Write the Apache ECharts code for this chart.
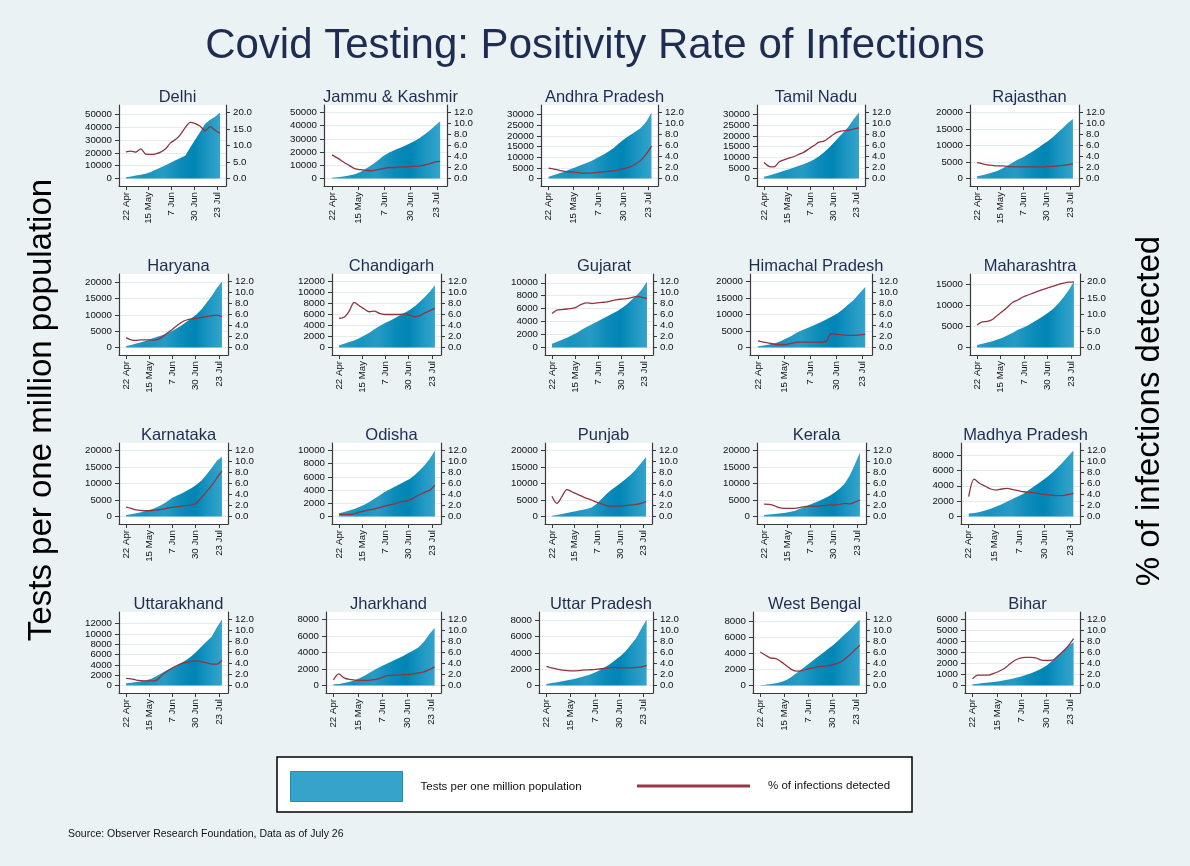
<!DOCTYPE html>
<html>
<head>
<meta charset="utf-8">
<title>Covid Testing: Positivity Rate of Infections</title>
<script src="https://cdn.jsdelivr.net/npm/echarts@6/dist/echarts.min.js"></script>
<style>
  html, body { margin: 0; padding: 0; background: #eaf2f3; }
  #chart { width: 1190px; height: 866px; }
</style>
</head>
<body>
<div id="chart"></div>
<script>
// days since 22 Apr, one reading every 5 days (last = 26 Jul)
const days = [0,5,10,15,20,25,30,35,40,45,50,55,60,65,70,75,80,85,90,95];
const tickDays = [0,23,46,69,92];
const tickLabels = ['22 Apr','15 May','7 Jun','30 Jun','23 Jul'];

// tests per one million population
const delhiTests = [1000,1600,2300,3000,3700,5000,6800,8600,10400,12300,14300,16000,18000,24300,30400,36400,42700,45800,48200,51500];
const jkTests = [500,900,1500,2300,3300,5000,7500,10200,13500,17000,19500,21500,23300,25200,27200,29500,32500,35700,39500,43400];
const apTests = [800,1600,2500,3300,4300,5300,6300,7300,8400,9700,11000,12600,14300,16500,18500,20300,22000,23700,26500,31000];
const tnTests = [800,1400,2100,2800,3600,4400,5200,6000,6800,7800,8900,10500,12300,14500,16900,19500,22000,24700,28000,31000];
const rjTests = [700,1000,1400,1800,2300,3000,3900,4800,5700,6400,7300,8200,9200,10300,11300,12500,13900,15300,16800,18000];
const hrTests = [500,800,1200,1600,2100,2700,3200,3700,4300,5000,5800,6800,7900,9000,10200,11800,13800,15800,18200,20200];
const chTests = [400,700,1000,1300,1700,2200,2700,3300,3900,4400,4800,5300,5800,6300,6800,7500,8300,9200,10200,11300];
const gjTests = [600,900,1200,1500,1900,2300,2800,3200,3600,4000,4400,4800,5200,5600,6100,6700,7400,8100,9000,10200];
const hpTests = [400,600,900,1300,1900,2700,3600,4600,5400,6100,6800,7600,8400,9300,10200,11500,13000,14500,16400,18300];
const mhTests = [600,900,1200,1500,1900,2300,2900,3500,4200,4700,5300,6000,6700,7500,8300,9300,10500,12000,13700,15700];
const kaTests = [500,700,1000,1300,1700,2100,2700,3500,4400,5500,6300,7000,7800,8600,9700,11000,12800,14800,16900,18100];
const orTests = [500,700,900,1150,1450,1800,2200,2700,3200,3700,4100,4500,4900,5300,5700,6300,7000,7800,8800,10000];
const pbTests = [200,500,800,1100,1400,1700,2000,2300,2700,3800,5300,6800,8100,9200,10300,11500,12800,14400,16200,18000];
const klTests = [500,650,800,950,1100,1350,1700,2300,2900,3600,4200,4800,5500,6300,7300,8500,10000,12500,15800,19400];
const mpTests = [400,450,600,800,1000,1300,1600,1950,2300,2650,3000,3500,4000,4500,5000,5600,6300,7000,7800,8600];
const ukTests = [450,550,700,850,1000,1300,1800,2400,2900,3400,3800,4400,5000,5700,6600,7600,8600,9500,11300,12800];
const jhTests = [150,200,300,450,650,900,1250,1650,2000,2350,2650,2950,3250,3550,3900,4250,4650,5300,6200,7000];
const upTests = [200,300,400,520,650,780,920,1100,1300,1550,1850,2200,2600,3100,3600,4200,5000,5800,7000,8100];
const wbTests = [50,100,180,300,450,700,1100,1600,2100,2600,3100,3600,4100,4600,5100,5700,6300,6900,7600,8250];
const brTests = [120,170,220,270,320,400,470,560,680,800,950,1120,1320,1550,1850,2250,2700,3150,3600,3950];

// % of infections detected
const delhiPos = [8.1,8.3,8.0,9.0,7.4,7.3,7.5,8.0,9.0,10.8,11.8,13.3,15.5,17.0,16.6,15.8,14.5,15.7,14.6,13.7];
const jkPos = [4.3,3.7,3.0,2.4,1.8,1.6,1.5,1.4,1.6,1.8,2.0,2.0,2.1,2.1,2.2,2.2,2.4,2.6,3.0,3.1];
const apPos = [1.9,1.7,1.5,1.3,1.2,1.1,1.0,1.0,1.0,1.1,1.2,1.3,1.4,1.6,1.8,2.1,2.6,3.3,4.4,5.9];
const tnPos = [2.9,2.2,2.1,3.0,3.4,3.7,4.0,4.4,4.8,5.4,6.0,6.6,6.8,7.4,8.1,8.5,8.7,8.8,9.0,9.2];
const rjPos = [2.9,2.7,2.5,2.4,2.3,2.3,2.2,2.1,2.1,2.1,2.1,2.1,2.1,2.1,2.2,2.2,2.3,2.4,2.5,2.7];
const hrPos = [1.8,1.4,1.3,1.4,1.4,1.35,1.4,1.8,2.5,3.2,3.9,4.6,5.0,5.2,5.3,5.5,5.6,5.8,5.9,5.6];
const chPos = [5.3,5.5,6.6,8.2,7.6,7.0,6.5,6.6,6.2,6.0,6.0,6.0,6.0,6.1,5.9,5.6,5.8,6.3,6.7,7.1];
const gjPos = [6.2,6.8,6.9,7.0,7.1,7.4,7.9,8.1,8.0,8.1,8.2,8.3,8.5,8.7,8.8,8.9,9.1,9.3,9.1,8.9];
const hpPos = [1.2,1.0,0.8,0.6,0.55,0.55,0.8,1.0,1.0,1.0,1.0,1.0,1.05,2.5,2.4,2.3,2.2,2.2,2.3,2.4];
const mhPos = [6.8,7.8,7.9,8.5,9.8,11.0,12.3,13.7,14.4,15.3,15.9,16.5,17.1,17.6,18.1,18.6,19.1,19.5,19.8,19.9];
const kaPos = [1.7,1.5,1.2,1.1,1.05,1.1,1.2,1.3,1.5,1.65,1.75,1.9,2.0,2.1,2.5,3.5,4.6,5.7,7.0,8.3];
const orPos = [0.4,0.4,0.4,0.5,0.8,1.0,1.2,1.4,1.6,1.9,2.1,2.3,2.6,2.8,3.0,3.5,4.0,4.4,4.8,5.7];
const pbPos = [3.7,2.4,3.6,4.9,4.5,4.1,3.7,3.3,3.0,2.6,2.3,2.0,1.9,1.9,1.95,2.0,2.1,2.2,2.4,2.7];
const klPos = [2.25,2.2,2.0,1.6,1.5,1.5,1.5,1.6,1.8,1.9,1.9,1.9,2.0,2.1,2.1,2.2,2.4,2.3,2.6,3.0];
const mpPos = [3.6,6.8,6.0,5.5,5.0,4.8,5.0,5.1,4.9,4.7,4.5,4.4,4.3,4.1,4.0,3.9,3.8,3.8,4.0,4.2];
const ukPos = [1.3,1.2,1.0,0.9,0.85,0.85,0.95,1.8,2.5,3.1,3.6,4.0,4.2,4.4,4.5,4.3,4.1,3.9,3.9,4.6];
const jhPos = [1.0,2.1,1.4,1.1,1.0,0.95,0.95,1.0,1.1,1.4,1.8,1.9,1.9,1.95,2.0,2.1,2.3,2.5,2.9,3.4];
const upPos = [3.5,3.2,3.0,2.8,2.7,2.65,2.7,2.8,2.85,2.9,3.0,3.1,3.2,3.3,3.2,3.2,3.2,3.3,3.4,3.6];
const wbPos = [6.1,5.5,5.0,4.9,4.3,3.6,2.9,2.6,2.7,3.0,3.2,3.4,3.5,3.6,3.8,4.1,4.7,5.5,6.4,7.3];
const brPos = [1.2,1.9,1.9,1.9,2.2,2.6,3.1,3.9,4.6,5.0,5.1,5.1,5.0,4.6,4.55,4.6,5.3,6.2,7.2,8.5];

const states = ['Delhi','Jammu & Kashmir','Andhra Pradesh','Tamil Nadu','Rajasthan',
  'Haryana','Chandigarh','Gujarat','Himachal Pradesh','Maharashtra',
  'Karnataka','Odisha','Punjab','Kerala','Madhya Pradesh',
  'Uttarakhand','Jharkhand','Uttar Pradesh','West Bengal','Bihar'];
const testsByState = [delhiTests,jkTests,apTests,tnTests,rjTests,hrTests,chTests,gjTests,hpTests,mhTests,
  kaTests,orTests,pbTests,klTests,mpTests,ukTests,jhTests,upTests,wbTests,brTests];
const posByState = [delhiPos,jkPos,apPos,tnPos,rjPos,hrPos,chPos,gjPos,hpPos,mhPos,
  kaPos,orPos,pbPos,klPos,mpPos,ukPos,jhPos,upPos,wbPos,brPos];

// axis labels of each panel
const leftTop  = [50000,50000,30000,30000,20000, 20000,12000,10000,20000,15000, 20000,10000,20000,20000,8000, 12000,8000,8000,8000,6000];
const leftStep = [10000,10000,5000,5000,5000, 5000,2000,2000,5000,5000, 5000,2000,5000,5000,2000, 2000,2000,2000,2000,1000];
const rightTop  = [20,12,12,12,12, 12,12,12,12,20, 12,12,12,12,12, 12,12,12,12,12];
const rightStep = [5,2,2,2,2, 2,2,2,2,5, 2,2,2,2,2, 2,2,2,2,2];

// panel geometry
const plotLeft  = [119,324,541,757,970, 119,332,545,750,970, 119,332,545,757,961, 119,326,539,753,965];
const plotRight = [226,447,658,865,1079, 228,441,653,872,1080, 228,441,652,866,1080, 228,441,653,866,1080];
const rowTop = [105,274,443,612];
const plotH = 81;
const pad = 0.113;

const testsName = 'Tests per one million population';
const posName = '% of infections detected';
const font = '"Liberation Sans", Arial, Helvetica, sans-serif';
const axisColor = '#3a3a3a';

const chart = echarts.init(document.getElementById('chart'));

function ticks(top, step) {
  const out = [];
  for (let v = 0; v <= top + 1e-9; v += step) out.push(+v.toFixed(4));
  return out;
}

function areaFill() {
  return new echarts.graphic.LinearGradient(0, 0, 1, 0, [
    { offset: 0, color: '#2a9cc5' },
    { offset: 0.2, color: '#1893bf' },
    { offset: 0.4, color: '#279bc4' },
    { offset: 0.58, color: '#0b8bba' },
    { offset: 0.72, color: '#0085b5' },
    { offset: 0.86, color: '#1c96c2' },
    { offset: 1, color: '#35a4ca' }
  ]);
}

const grids = [], xAxes = [], yAxes = [], series = [];
const titles = [{
  text: 'Covid Testing: Positivity Rate of Infections',
  left: 'center', top: 20,
  textStyle: { fontSize: 42, fontWeight: 'normal', color: '#1e2c52', fontFamily: font }
}];

states.forEach((name, i) => {
  const row = Math.floor(i / 5);
  const top = rowTop[row];
  const left = plotLeft[i];
  const width = plotRight[i] - plotLeft[i];
  grids.push({ left, top, width, height: plotH, show: true, backgroundColor: '#ffffff', borderWidth: 0 });

  titles.push({
    text: name, left: left + width / 2, top: top - 21, textAlign: 'center',
    textStyle: { fontSize: 16.5, fontWeight: 'normal', color: '#1e2c52', fontFamily: font }
  });

  const tests = testsByState[i];
  const pos = posByState[i];
  const L = Math.max(leftTop[i], Math.max(...tests));
  const R = Math.max(rightTop[i], Math.max(...pos));
  const lv = ticks(leftTop[i], leftStep[i]);
  const rv = ticks(rightTop[i], rightStep[i]);

  xAxes.push({
    gridIndex: i, type: 'value', min: -7, max: 101,
    axisLine: { show: true, onZero: false, lineStyle: { color: axisColor, width: 1.2 } },
    axisTick: { show: true, length: 4, customValues: tickDays, lineStyle: { color: axisColor } },
    axisLabel: {
      customValues: tickDays, rotate: 90, margin: 6, fontSize: 9.7, color: '#111', fontFamily: font,
      formatter: v => tickLabels[tickDays.indexOf(Math.round(v))] || ''
    },
    splitLine: { show: false }
  });

  yAxes.push({
    gridIndex: i, type: 'value', position: 'left', min: -pad * L, max: (1 + pad) * L,
    axisLine: { show: true, onZero: false, lineStyle: { color: axisColor, width: 1.2 } },
    axisTick: { show: true, length: 4, customValues: lv, lineStyle: { color: axisColor } },
    axisLabel: { customValues: lv, margin: 7, fontSize: 9.7, color: '#111', fontFamily: font, formatter: v => String(Math.round(v)) },
    splitLine: { show: true, lineStyle: { color: '#e3ecef', width: 1.2 } }
  });
  yAxes.push({
    gridIndex: i, type: 'value', position: 'right', min: -pad * R, max: (1 + pad) * R,
    axisLine: { show: true, onZero: false, lineStyle: { color: axisColor, width: 1.2 } },
    axisTick: { show: true, length: 4, customValues: rv, lineStyle: { color: axisColor } },
    axisLabel: { customValues: rv, margin: 7, fontSize: 9.7, color: '#111', fontFamily: font, formatter: v => v.toFixed(1) },
    splitLine: { show: false }
  });

  series.push({
    type: 'line', name: testsName, xAxisIndex: i, yAxisIndex: 2 * i,
    data: days.map((d, k) => [d, tests[k]]),
    showSymbol: false, silent: true,
    lineStyle: { width: 0 },
    areaStyle: { color: areaFill(), opacity: 1 },
    z: 2
  });
  series.push({
    type: 'line', name: posName, xAxisIndex: i, yAxisIndex: 2 * i + 1,
    data: days.map((d, k) => [d, pos[k]]),
    showSymbol: false, silent: true, smooth: 0.3,
    lineStyle: { color: '#8f3540', width: 1.3 },
    z: 3
  });
});

chart.setOption({
  backgroundColor: '#eaf2f3',
  animation: false,
  title: titles,
  grid: grids,
  xAxis: xAxes,
  yAxis: yAxes,
  series: series,
  legend: [
    {
      data: [{ name: testsName, itemStyle: { color: '#35a3ca', borderColor: '#1a8fbd', borderWidth: 1 } }],
      icon: 'rect', left: 290, top: 771, padding: 0, itemWidth: 112, itemHeight: 30,
      selectedMode: false, z: 10,
      textStyle: { fontSize: 11.5, color: '#111', fontFamily: font, padding: [0, 0, 0, 13] }
    },
    {
      data: [{ name: posName, itemStyle: { color: '#923a44' } }],
      icon: 'rect', left: 637, top: 780, padding: 0, itemWidth: 113, itemHeight: 3,
      selectedMode: false, z: 10,
      textStyle: { fontSize: 11.5, color: '#111', fontFamily: font, padding: [0, 0, 0, 13] }
    }
  ],
  graphic: [
    {
      type: 'rect', z: 1,
      shape: { x: 277, y: 757, width: 635, height: 55 },
      style: { fill: '#ffffff', stroke: '#000000', lineWidth: 1.5 }
    },
    {
      type: 'text', x: 42, y: 410, rotation: Math.PI / 2,
      style: { text: 'Tests per one million population', font: '33px ' + font, fill: '#000',
        textAlign: 'center', textVerticalAlign: 'middle', align: 'center', verticalAlign: 'middle' }
    },
    {
      type: 'text', x: 1150, y: 411, rotation: Math.PI / 2,
      style: { text: '% of infections detected', font: '33px ' + font, fill: '#000',
        textAlign: 'center', textVerticalAlign: 'middle', align: 'center', verticalAlign: 'middle' }
    },
    {
      type: 'text', x: 68, y: 834,
      style: { text: 'Source: Observer Research Foundation, Data as of July 26', font: '10.5px ' + font, fill: '#111',
        textVerticalAlign: 'middle', verticalAlign: 'middle' }
    }
  ]
});
</script>
</body>
</html>
